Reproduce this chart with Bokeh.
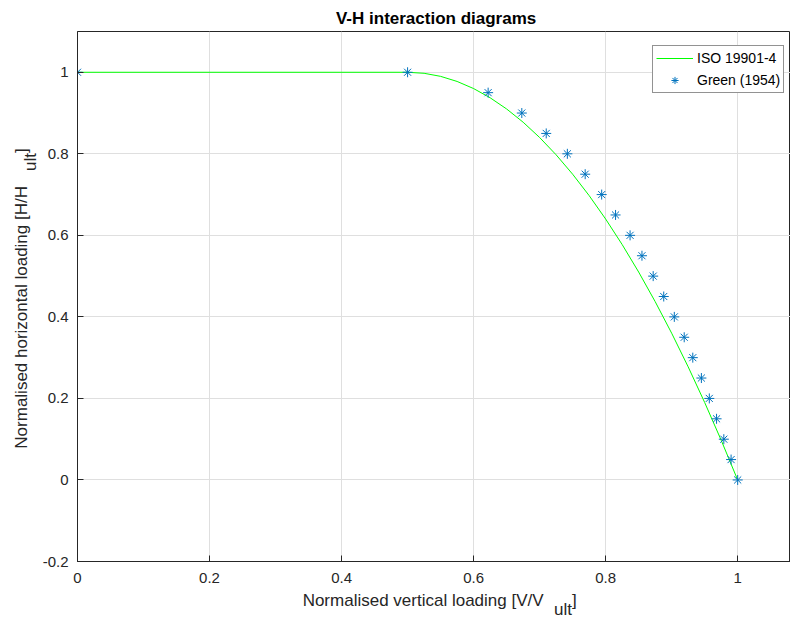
from bokeh.plotting import figure
from bokeh.models import Label, FixedTicker, Range1d, Legend, LegendItem
from bokeh.embed import file_html
from bokeh.resources import INLINE

# ISO 19901-4 V-H interaction envelope
iso_v = [0.0, 0.5, 0.525, 0.55, 0.575, 0.6, 0.625, 0.65, 0.675, 0.7, 0.725, 0.75,
         0.775, 0.8, 0.825, 0.85, 0.875, 0.9, 0.925, 0.95, 0.975, 1.0]
iso_h = [1.0, 1.0, 0.9975, 0.99, 0.9775, 0.96, 0.9375, 0.91, 0.8775, 0.84, 0.7975, 0.75,
         0.6975, 0.64, 0.5775, 0.51, 0.4375, 0.36, 0.2775, 0.19, 0.0975, 0.0]

# Green (1954) solution points
green_v = [0.0, 0.5, 0.622, 0.673, 0.710, 0.742, 0.769, 0.794, 0.815, 0.837, 0.855,
           0.872, 0.888, 0.904, 0.919, 0.932, 0.945, 0.957, 0.968, 0.979, 0.990, 1.0]
green_h = [1.0, 1.0, 0.95, 0.90, 0.85, 0.80, 0.75, 0.70, 0.65, 0.60, 0.55,
           0.50, 0.45, 0.40, 0.35, 0.30, 0.25, 0.20, 0.15, 0.10, 0.05, 0.0]

x_ticks = [0.0, 0.2, 0.4, 0.6, 0.8, 1.0]
x_tick_labels = ["0", "0.2", "0.4", "0.6", "0.8", "1"]
y_ticks = [-0.2, 0.0, 0.2, 0.4, 0.6, 0.8, 1.0]
y_tick_labels = ["-0.2", "0", "0.2", "0.4", "0.6", "0.8", "1"]

FONT = "Liberation Sans"
INK = "#262626"
NBSP = "\u00a0"

p = figure(width=790, height=618, output_backend="svg", toolbar_location=None,
           x_range=Range1d(0, 1.08), y_range=Range1d(-0.2, 1.1),
           min_border_left=77, min_border_right=0, min_border_top=31, min_border_bottom=57)
p.background_fill_color = "white"
p.border_fill_color = "white"
p.outline_line_color = INK
p.outline_line_width = 1

for ax, ticks, labels in ((p.xaxis[0], x_ticks, x_tick_labels), (p.yaxis[0], y_ticks, y_tick_labels)):
    ax.ticker = FixedTicker(ticks=ticks)
    ax.major_label_overrides = {t: l for t, l in zip(ticks, labels)}
    ax.major_tick_in = 6
    ax.major_tick_out = 0
    ax.minor_tick_line_color = None
    ax.axis_line_color = INK
    ax.major_tick_line_color = INK
    ax.major_label_text_font = FONT
    ax.major_label_text_font_size = "15px"
    ax.major_label_text_color = INK
p.xaxis[0].major_label_standoff = 11
p.yaxis[0].major_label_standoff = 9

p.xgrid.ticker = FixedTicker(ticks=x_ticks)
p.ygrid.ticker = FixedTicker(ticks=y_ticks)
p.xgrid.grid_line_color = "#dfdfdf"
p.ygrid.grid_line_color = "#dfdfdf"

iso = p.line(iso_v, iso_h, line_color="#00ff00", line_width=1)
green = p.scatter(green_v, green_h, marker="asterisk", size=10,
                  line_color="#0072bd", line_width=1)

legend = Legend(items=[LegendItem(label="ISO 19901-4", renderers=[iso]),
                       LegendItem(label="Green (1954)", renderers=[green])],
                location=(575, 468), padding=3, spacing=4, margin=0,
                label_height=18, glyph_height=18, glyph_width=37, label_standoff=4,
                label_text_font=FONT, label_text_font_size="14px", label_text_color="black",
                border_line_color=INK, border_line_width=1, background_fill_color="white",
                background_fill_alpha=1)
p.add_layout(legend, "center")


def px_x(px):
    return (px - 77) / 660.0


def px_y(py):
    return (480 - py) / 408.0


def add_text(side, x, y, text, size, align="left", baseline="alphabetic", angle=0.0,
             bold=False, color=INK, line_height=1.2):
    p.add_layout(Label(x=px_x(x), y=px_y(y), text=text, text_font=FONT,
                       text_font_size=size, text_align=align, text_baseline=baseline,
                       angle=angle, text_color=color, text_line_height=line_height,
                       text_font_style="bold" if bold else "normal"), side)


# title
add_text("above", 435.5, 18, "V-H interaction diagrams", "17px", align="center",
         bold=True, color="black")

# axis labels; the second, half-spaced line holds the "ult" subscript
x_label = "Normalised vertical loading [V/V" + NBSP * 6 + "]\nult" + NBSP
y_label = "Normalised horizontal loading [H/H" + NBSP * 7 + "]\nult" + NBSP
add_text("below", 576, 591.5, x_label, "17px", align="right", baseline="top", line_height=0.48)
add_text("left", 11.5, 148, y_label, "17px", align="right", baseline="top",
         angle=1.5707963, line_height=0.5)

open("out.html", "w").write(file_html(p, INLINE))
